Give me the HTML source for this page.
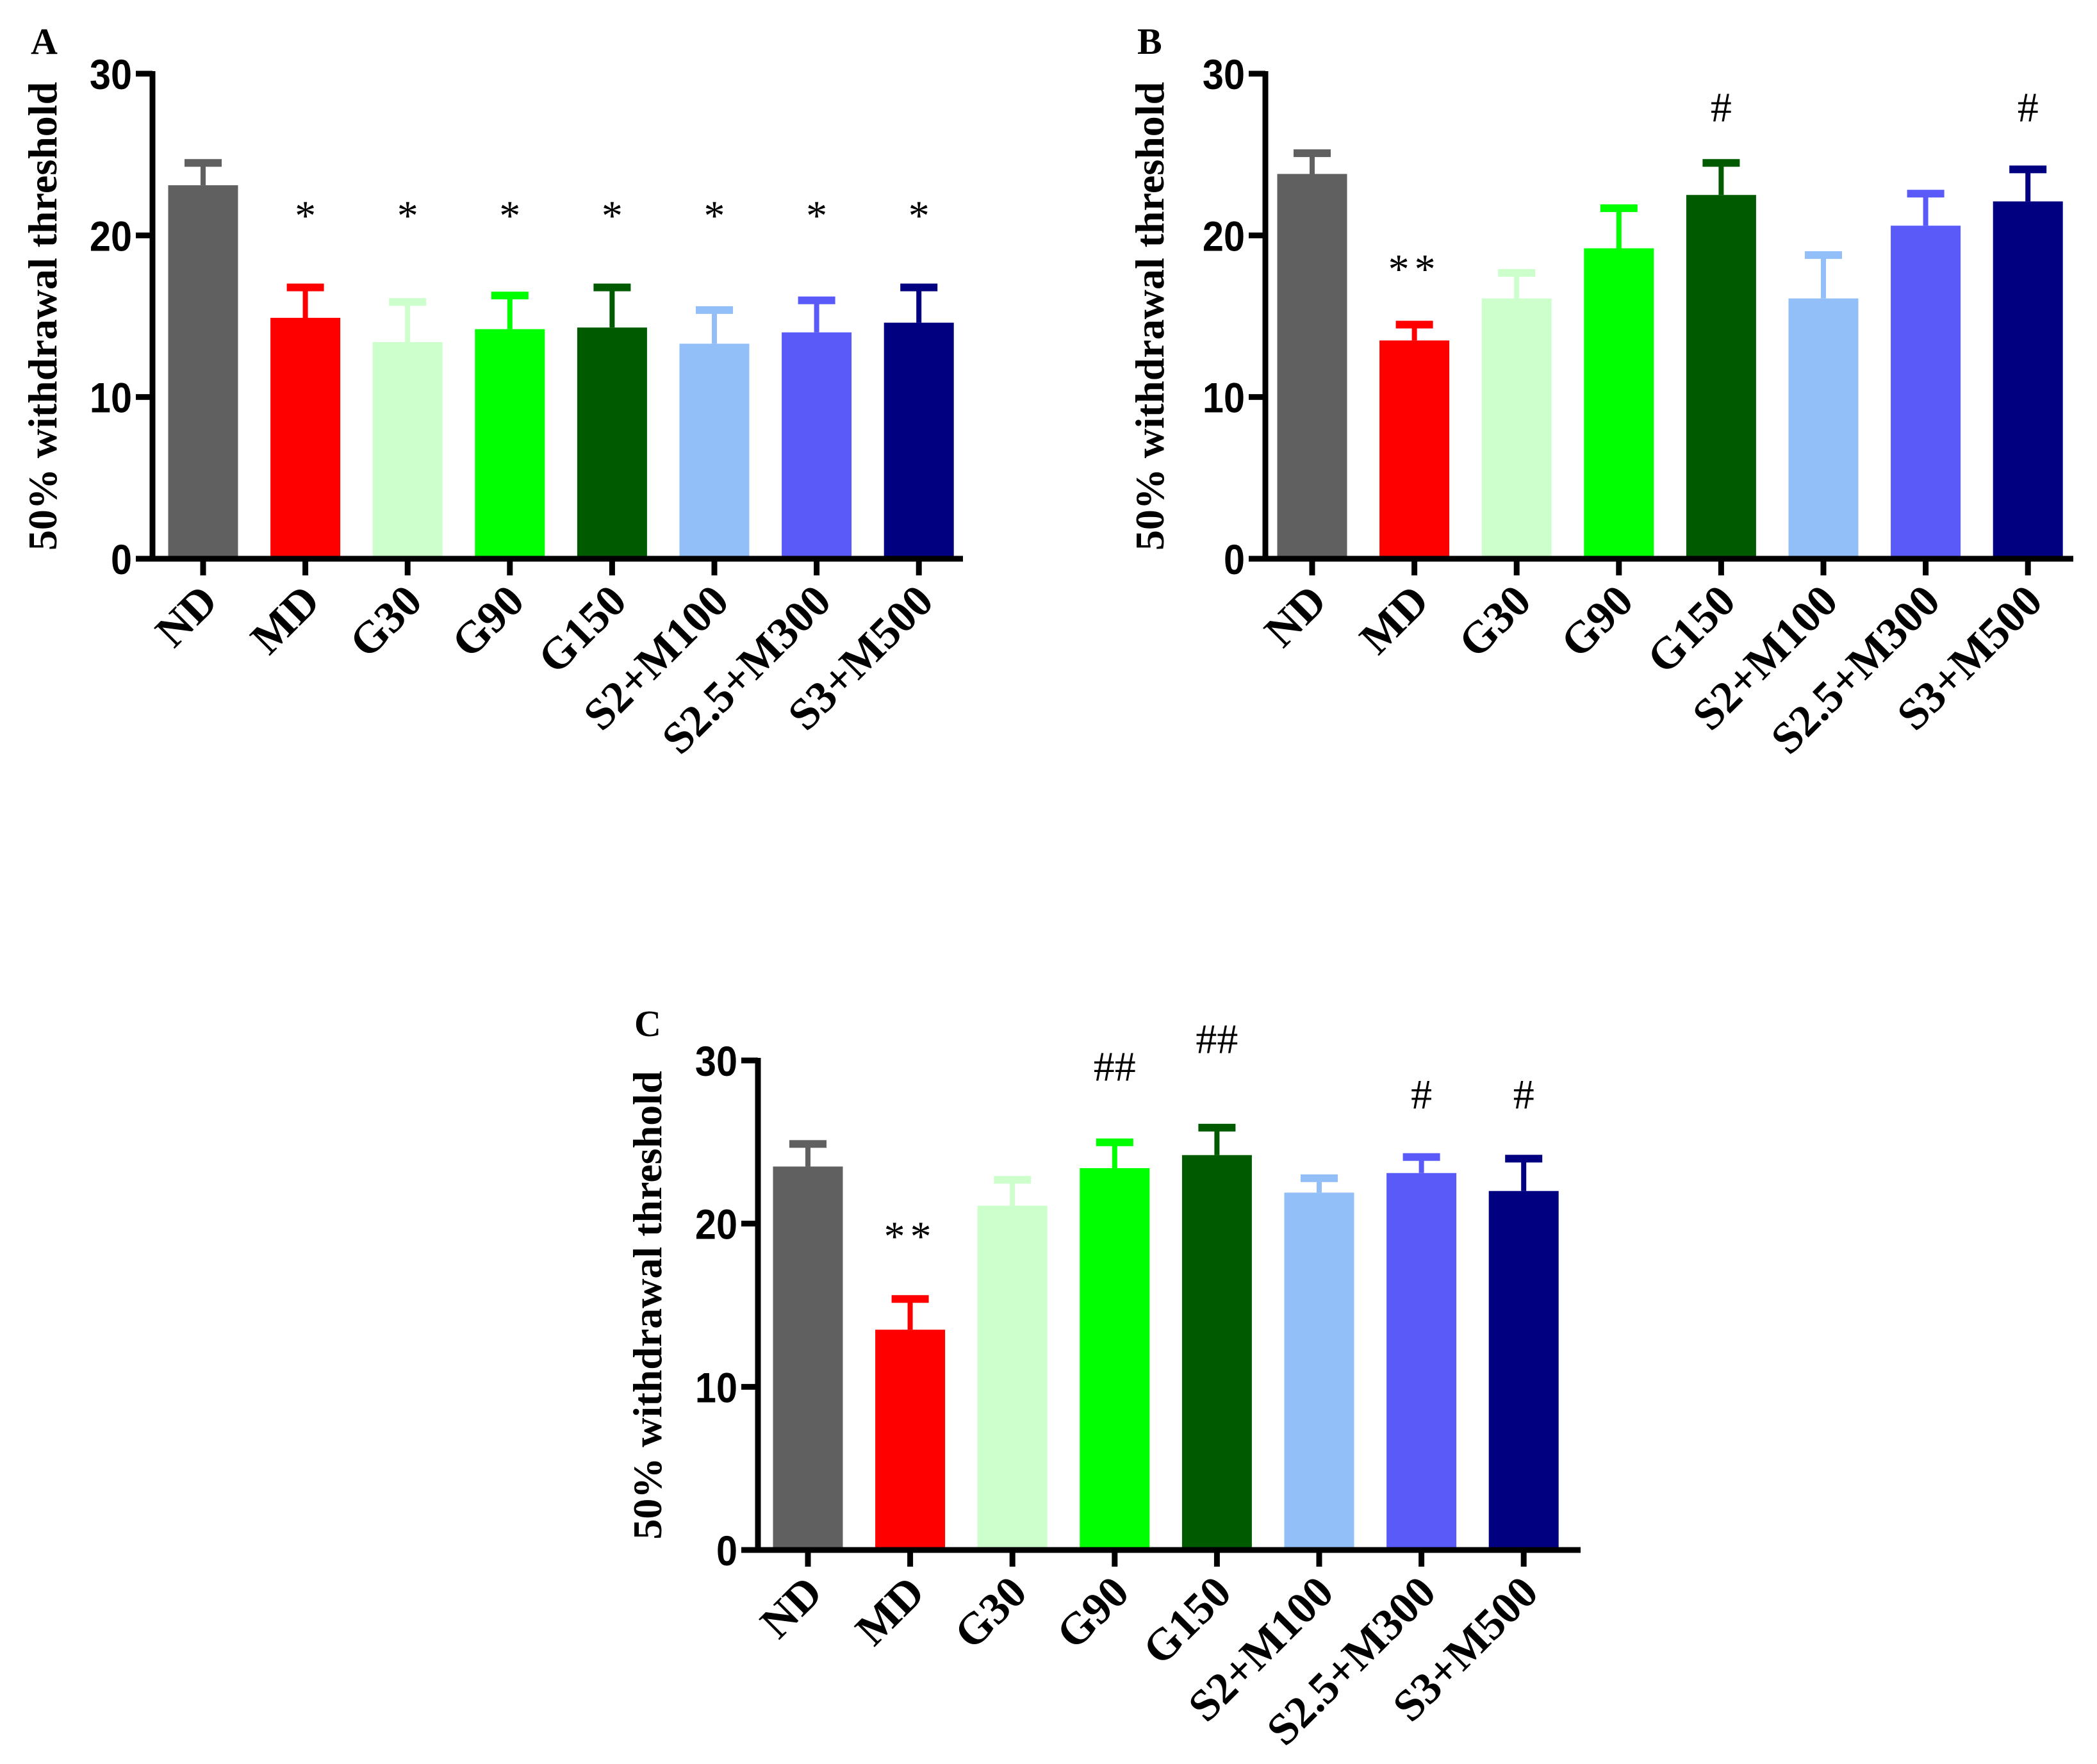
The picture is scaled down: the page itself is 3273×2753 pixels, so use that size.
<!DOCTYPE html>
<html><head><meta charset="utf-8"><style>
html,body{margin:0;padding:0;background:#fff;}
svg{display:block;}
.tick{font-family:"Liberation Sans",Arial,sans-serif;font-weight:bold;font-size:66px;}
.ser{font-family:"Liberation Serif","Times New Roman",serif;font-weight:bold;}
.ann{font-family:"Liberation Serif","Times New Roman",serif;font-size:66px;}
</style></head><body>
<svg id="chart" width="3273" height="2753" viewBox="0 0 3273 2753" xmlns="http://www.w3.org/2000/svg"></svg>
<script>
const categories = ["ND","MD","G30","G90","G150","S2+M100","S2.5+M300","S3+M500"];
const colors = ["#606060","#ff0000","#ccffcc","#00ff00","#005a00","#93bff9","#5a5af9","#000080"];
const yTicks = [0,10,20,30];
const meanA = [23.1,14.9,13.4,14.2,14.3,13.3,14.0,14.6];
const errA  = [1.5,2.0,2.6,2.2,2.6,2.2,2.1,2.3];
const meanB = [23.8,13.5,16.1,19.2,22.5,16.1,20.6,22.1];
const errB  = [1.4,1.1,1.7,2.6,2.1,2.8,2.1,2.1];
const meanC = [23.5,13.5,21.1,23.4,24.2,21.9,23.1,22.0];
const errC  = [1.5,2.0,1.7,1.7,1.8,1.0,1.1,2.1];
const annA = ["","*","*","*","*","*","*","*"];
const annAy = [0,21.3,21.3,21.3,21.3,21.3,21.3,21.3];
const annB = ["","**","","","#","","","#"];
const annBy = [0,18.0,0,0,28.0,0,0,28.0];
const annC = ["","**","","##","##","","#","#"];
const annCy = [0,19.3,0,29.7,31.4,0,28.0,28.0];

const NS="http://www.w3.org/2000/svg";
const svg=document.getElementById('chart');
function mk(tag,attrs,parent){const e=document.createElementNS(NS,tag);for(const k in attrs)e.setAttribute(k,attrs[k]);(parent||svg).appendChild(e);return e;}

function panel(p){
  const g=mk('g',{});
  
  
  const y=v=>p.y0-(v/30)*(p.y0-p.y30);
  const step=p.step, bw=109;
  const x=i=>p.c0+i*step;
  categories.forEach((c,i)=>{
    const col=colors[i];
    const top=y(p.mean[i]);
    const r=mk('rect',{x:x(i)-bw/2,y:top,width:bw,height:p.y0-top,fill:col},g);
    
    
    const et=y(p.mean[i]+p.err[i]);
    const el=mk('line',{x1:x(i),x2:x(i),y1:top,y2:et+3,stroke:col,'stroke-width':8},g);
    
    
    const cap=mk('rect',{x:x(i)-29,y:et-3,width:58,height:12,fill:col},g);
    
    
    if(p.ann[i]){
      const t=mk('text',{x:x(i),y:y(p.anny[i])+24,'text-anchor':'middle',class:'ann','letter-spacing':p.ann[i]=='**'?'8':'0'},g);
      t.textContent=p.ann[i];
      
      
    }
    const tk=mk('line',{x1:x(i),x2:x(i),y1:p.y0,y2:p.y0+26,stroke:'#000','stroke-width':9},g);
    
    
    const lx=x(i)+26, ly=p.y0+70;
    const lt=mk('text',{x:lx,y:ly,'text-anchor':'end',class:'ser','font-size':'70px',transform:`rotate(-45 ${lx} ${ly})`},g);
    lt.textContent=c;
    
    
  });
  const ya=mk('line',{x1:p.ax,x2:p.ax,y1:y(30)-4,y2:p.y0+4,stroke:'#000','stroke-width':9},g);
  
  
  const xa=mk('line',{x1:p.ax-4,x2:p.xend,y1:p.y0,y2:p.y0,stroke:'#000','stroke-width':9},g);
  
  
  yTicks.forEach(v=>{
    const l=mk('line',{x1:p.ax-26,x2:p.ax,y1:y(v),y2:y(v),stroke:'#000','stroke-width':9},g);
    
    
    const t=mk('text',{x:p.ax-32,y:y(v)+24,'text-anchor':'end',class:'tick',transform:`translate(${p.ax-32} 0) scale(0.9 1) translate(${-(p.ax-32)} 0)`},g);
    t.textContent=v;
    
    
  });
  const cy=(y(30)+p.y0)/2;
  const tt=mk('text',{x:p.tx,y:cy,'text-anchor':'middle',class:'ser','font-size':'64px',transform:`rotate(-90 ${p.tx} ${cy})`},g);
  tt.textContent='50% withdrawal threshold';
  
  
  const pl=mk('text',{x:p.lx,y:p.ly,class:'ser','font-size':'58px'},g);
  pl.textContent=p.id;
  
  
}
panel({id:'A',mean:meanA,err:errA,ann:annA,anny:annAy,ax:238,y30:115,y0:872,c0:317,step:159.6,xend:1503,tx:88,lx:48,ly:84});
panel({id:'B',mean:meanB,err:errB,ann:annB,anny:annBy,ax:1975,y30:115,y0:872,c0:2048,step:159.6,xend:3236,tx:1816,lx:1775,ly:84});
panel({id:'C',mean:meanC,err:errC,ann:annC,anny:annCy,ax:1183,y30:1655,y0:2419,c0:1261,step:159.6,xend:2467,tx:1032,lx:990,ly:1617});
</script>
</body></html>
